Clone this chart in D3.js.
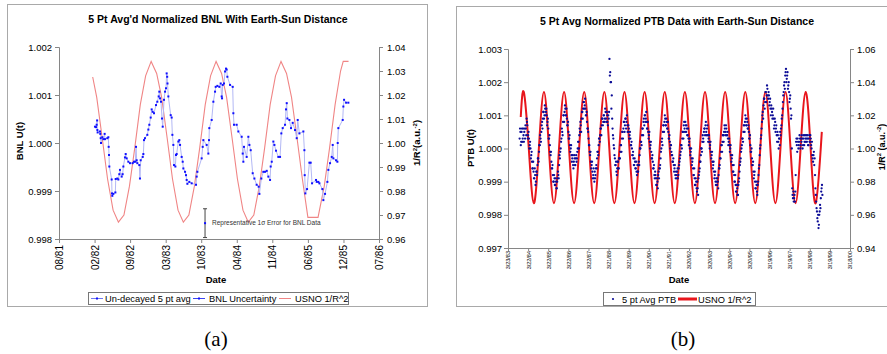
<!DOCTYPE html>
<html>
<head>
<meta charset="utf-8">
<script src="https://cdn.jsdelivr.net/npm/d3@7/dist/d3.min.js"></script>
<style>
  body { margin: 0; background: #fff; }
  svg { display: block; }
</style>
</head>
<body>
<div class="graph"></div>
<script>
/* ---------- data, panel (a): BNL ---------- */

// x ticks of panel (a), decimal years, and their labels
var bnlTickYears = [1981.581, 1982.129, 1982.676, 1983.224, 1983.771, 1984.319, 1984.866, 1985.414, 1985.962, 1986.509];
var bnlTickLabels = ["08/81", "02/82", "09/82", "03/83", "10/83", "04/84", "11/84", "06/85", "12/85", "07/86"];
var bnlLeftTicks = [0.998, 0.999, 1.000, 1.001, 1.002];
var bnlRightTicks = [0.96, 0.97, 0.98, 0.99, 1.00, 1.01, 1.02, 1.03, 1.04];

// Un-decayed 5 pt avg : [decimal year, U(t)]
var bnlAvg = [
  [1982.135, 1.00034], [1982.151, 1.00033], [1982.161, 1.00038], [1982.168, 1.00047], [1982.172, 1.00027],
  [1982.176, 1.00022], [1982.212, 1.00024], [1982.217, 1.00019], [1982.223, 1.00010], [1982.228, 1.00000],
  [1982.248, 1.00012], [1982.264, 1.00008], [1982.284, 1.00019], [1982.289, 1.00008], [1982.325, 1.00010],
  [1982.341, 1.00012], [1982.346, 0.99992], [1982.351, 0.99975], [1982.356, 0.99951], [1982.392, 0.99924],
  [1982.397, 0.99895], [1982.402, 0.99890], [1982.418, 0.99894], [1982.449, 0.99897], [1982.454, 0.99925],
  [1982.479, 0.99926], [1982.495, 0.99924], [1982.510, 0.99935], [1982.520, 0.99944], [1982.546, 0.99930],
  [1982.561, 0.99935], [1982.572, 0.99951], [1982.597, 0.99970], [1982.608, 0.99977], [1982.623, 0.99968],
  [1982.649, 0.99961], [1982.674, 0.99958], [1982.716, 0.99958], [1982.736, 0.99961], [1982.757, 0.99961],
  [1982.767, 0.99992], [1982.777, 0.99964], [1982.787, 0.99958], [1982.818, 0.99954], [1982.828, 0.99926],
  [1982.839, 0.99964], [1982.870, 0.99971], [1982.880, 0.99977], [1982.890, 1.00006], [1982.905, 1.00010],
  [1982.941, 1.00017], [1982.957, 1.00028], [1982.972, 1.00038], [1982.993, 1.00053], [1983.008, 1.00070],
  [1983.024, 1.00065], [1983.044, 1.00062], [1983.075, 1.00079], [1983.095, 1.00086], [1983.116, 1.00097],
  [1983.126, 1.00107], [1983.137, 1.00093], [1983.152, 1.00086], [1983.167, 1.00051], [1983.178, 1.00034],
  [1983.198, 1.00090], [1983.214, 1.00107], [1983.229, 1.00114], [1983.239, 1.00145], [1983.247, 1.00138],
  [1983.252, 1.00124], [1983.265, 1.00097], [1983.301, 1.00058], [1983.316, 1.00053], [1983.327, 1.00017],
  [1983.342, 0.99996], [1983.352, 0.99954], [1983.373, 0.99951], [1983.383, 0.99975], [1983.393, 0.99977],
  [1983.419, 1.00003], [1983.434, 1.00006], [1983.445, 0.99996], [1983.470, 0.99971], [1983.486, 0.99961],
  [1983.496, 0.99947], [1983.522, 0.99940], [1983.537, 0.99933], [1983.547, 0.99923], [1983.558, 0.99915],
  [1983.588, 0.99919], [1983.624, 0.99916], [1983.691, 0.99913], [1983.701, 0.99930], [1983.712, 0.99940],
  [1983.778, 0.99968], [1983.794, 0.99992], [1983.804, 1.00006], [1983.855, 0.99996], [1983.881, 0.99978],
  [1983.891, 1.00006], [1983.896, 1.00031], [1983.932, 1.00048], [1983.958, 1.00086], [1983.984, 1.00107],
  [1983.994, 1.00117], [1984.020, 1.00119], [1984.050, 1.00117], [1984.071, 1.00124], [1984.086, 1.00097],
  [1984.092, 1.00093], [1984.102, 1.00121], [1984.122, 1.00124], [1984.138, 1.00149], [1984.153, 1.00155],
  [1984.163, 1.00153], [1984.174, 1.00138], [1984.215, 1.00121], [1984.256, 1.00117], [1984.266, 1.00062],
  [1984.276, 1.00038], [1984.317, 1.00038], [1984.343, 1.00024], [1984.394, 1.00013], [1984.410, 0.99978],
  [1984.420, 0.99961], [1984.430, 0.99992], [1984.471, 0.99971], [1984.497, 1.00013], [1984.513, 0.99996],
  [1984.533, 0.99985], [1984.564, 0.99937], [1984.590, 0.99926], [1984.625, 0.99913], [1984.656, 0.99909],
  [1984.667, 0.99894], [1984.697, 0.99926], [1984.728, 0.99940], [1984.754, 0.99940], [1984.780, 0.99942],
  [1984.805, 0.99930], [1984.831, 0.99923], [1984.841, 0.99951], [1984.857, 0.99961], [1984.882, 1.00003],
  [1984.898, 0.99996], [1984.923, 0.99984], [1984.959, 0.99971], [1984.985, 0.99971], [1985.005, 1.00020],
  [1985.026, 1.00031], [1985.062, 1.00038], [1985.077, 1.00070], [1985.088, 1.00083], [1985.098, 1.00051],
  [1985.129, 1.00048], [1985.154, 1.00031], [1985.180, 1.00042], [1985.216, 1.00027], [1985.242, 1.00010],
  [1985.257, 1.00048], [1985.283, 1.00020], [1985.344, 1.00024], [1985.360, 0.99985], [1985.365, 0.99933],
  [1985.375, 0.99895], [1985.401, 0.99904], [1985.437, 0.99959], [1985.457, 0.99959], [1985.478, 0.99916],
  [1985.539, 0.99923], [1985.550, 0.99919], [1985.575, 0.99919], [1985.591, 0.99916], [1985.637, 0.99904],
  [1985.652, 0.99881], [1985.678, 0.99894], [1985.714, 0.99919], [1985.729, 0.99944], [1985.755, 0.99958],
  [1985.781, 0.99971], [1985.796, 0.99996], [1985.806, 0.99968], [1985.847, 0.99964], [1985.868, 0.99961],
  [1985.873, 1.00000], [1985.883, 1.00031], [1985.950, 1.00048], [1985.960, 1.00076], [1985.971, 1.00090],
  [1986.002, 1.00084], [1986.037, 1.00084]
];

// BNL Uncertainty : one representative point with its 1 sigma error
var bnlError = [[1983.830, 0.99833, 0.00030]];
var bnlErrorNote = "Representative 1\u03c3 Error for BNL Data";

// USNO 1/R^2, sampled monthly : [decimal year, 1/R^2]
var usnoBnl = [
  [1982.100, 1.0275], [1982.162, 1.019], [1982.247, 1.002], [1982.329, 0.985], [1982.414, 0.972], [1982.496, 0.967],
  [1982.581, 0.970], [1982.666, 0.982], [1982.748, 0.998], [1982.833, 1.016], [1982.915, 1.028],
  [1983.000, 1.034], [1983.085, 1.029], [1983.162, 1.019], [1983.247, 1.002], [1983.329, 0.985], [1983.414, 0.972],
  [1983.496, 0.967], [1983.581, 0.970], [1983.666, 0.982], [1983.748, 0.998], [1983.833, 1.016], [1983.915, 1.028],
  [1984.000, 1.034], [1984.085, 1.029], [1984.162, 1.019], [1984.247, 1.002], [1984.329, 0.985], [1984.414, 0.972],
  [1984.496, 0.967], [1984.581, 0.970], [1984.666, 0.982], [1984.748, 0.998], [1984.833, 1.016], [1984.915, 1.028],
  [1985.000, 1.034], [1985.085, 1.029], [1985.162, 1.019], [1985.247, 1.002], [1985.329, 0.985], [1985.414, 0.969],
  [1985.570, 0.969], [1985.666, 0.982], [1985.748, 0.998], [1985.833, 1.016], [1985.917, 1.030], [1985.958, 1.034],
  [1986.040, 1.034]
];

/* ---------- data, panel (b): PTB ---------- */

var ptbTickLabels = ["3/23/83", "3/22/84", "3/22/85", "3/22/86", "3/22/87", "3/21/88", "3/21/89", "3/21/90", "3/21/91",
                     "3/20/92", "3/20/93", "3/20/94", "3/20/95", "3/19/96", "3/19/97", "3/19/98", "3/19/99", "3/18/00"];
var ptbLeftTicks = [0.997, 0.998, 0.999, 1.000, 1.001, 1.002, 1.003];
var ptbRightTicks = [0.94, 0.96, 0.98, 1.00, 1.02, 1.04, 1.06];

// 5 pt Avg PTB, (U(t) - 1) in units of 1e-4.
// ptbRows: one point every 1/26 year from ptbStart, one row per Oct-Oct year.
// ptbRowsHalf: the points that fall half a step after each of those.
var ptbStart = 1983.80;
var ptbRows = [
  [3, 5, 2, 6, 3, 4, 5, 3, 6, 9, 7, 4, 3, 1, 0, -2, -4, -6, -7, -9, -8, -10, -7, -5, -3, -1],
  [1, 3, 5, 8, 9, 11, 10, 12, 11, 10, 8, 6, 3, 1, -2, -4, -6, -8, -10, -9, -11, -10, -12, -9, -8, -5],
  [-3, 0, 3, 5, 8, 10, 11, 12, 10, 9, 7, 5, 3, 1, 0, -2, -3, -5, -4, -3, -5, -2, -3, 0, 2, 4],
  [5, 7, 9, 11, 12, 14, 13, 12, 10, 8, 6, 3, 1, -2, -4, -5, -7, -8, -9, -7, -8, -5, -3, -1, 1, 3],
  [4, 6, 7, 9, 8, 10, 9, 11, 8, 10, 7, 9, 27, 23, 20, 16, 6, 3, 0, -3, -5, -7, -6, -4, -6, -3],
  [-1, 1, 3, 5, 6, 8, 7, 9, 8, 7, 5, 6, 4, 3, 1, 0, -2, -3, -5, -4, -6, -7, -5, -7, -4, -2],
  [0, 2, 4, 6, 8, 7, 10, 9, 8, 6, 5, 4, 2, 1, -1, -3, -4, -6, -8, -7, -9, -11, -10, -8, -9, -6],
  [-3, 0, 3, 5, 7, 8, 9, 7, 8, 6, 5, 3, 2, 1, -1, -2, -4, -5, -6, -8, -7, -9, -6, -8, -5, -3],
  [-1, 1, 3, 5, 7, 6, 8, 5, 6, 4, 3, 2, 0, -1, -3, -4, -6, -8, -9, -11, -10, -13, -12, -9, -7, -4],
  [-2, 0, 2, 3, 5, 6, 7, 5, 6, 4, 3, 2, 1, -1, -2, -4, -5, -7, -8, -10, -9, -11, -10, -8, -6, -3],
  [-1, 1, 2, 4, 5, 6, 5, 6, 4, 3, 2, 1, 0, -2, -3, -5, -7, -8, -10, -11, -13, -12, -14, -10, -7, -4],
  [-1, 1, 3, 5, 7, 8, 9, 7, 8, 6, 5, 3, 1, -1, -3, -5, -7, -8, -10, -12, -11, -14, -10, -6, -2, 1],
  [4, 8, 11, 13, 15, 14, 17, 16, 18, 15, 16, 14, 12, 13, 11, 10, 9, 7, 8, 6, 4, 5, 2, 3, 1, 4],
  [7, 10, 14, 17, 20, 22, 24, 21, 23, 19, 17, 15, 12, 10, -12, -15, -16, -14, -13, 2, 1, 3, 0, 2, 3, 1],
  [2, 3, 1, 4, 2, 3, 4, 2, 3, 1, 4, 2, 3, 0, -2, -4, -1, -3, -12, -16, -19, -22, -24, -20, -17, -15, -12, -14]
];
var ptbRowsHalf = [
  [6, 1, 5, 2, 6, 2, 6, 7, 4, 8, 3, 5, 0, 2, -3, -1, -6, -4, -9, -6, -11, -7, -8, -3, -4, 1],
  [4, 2, 7, 6, 11, 9, 13, 10, 12, 7, 9, 3, 4, -1, -1, -6, -5, -10, -8, -11, -9, -12, -10, -7, -9, -2],
  [-1, 2, 6, 4, 10, 8, 13, 10, 12, 7, 8, 3, 4, -1, 1, -4, -2, -6, -2, -5, -3, -4, -1, 2, 0, 6],
  [8, 5, 11, 9, 14, 12, 15, 10, 11, 6, 5, 1, -1, -1, -6, -4, -9, -6, -10, -9, -6, -6, -1, -2, 3, 2],
  [6, 4, 9, 7, 10, 8, 12, 9, 11, 8, 10, 11, 22, 20, 12, 9, 4, 1, -2, -5, -4, -8, -4, -6, -3, -3],
  [1, -1, 5, 3, 8, 5, 9, 6, 10, 5, 7, 3, 5, 1, 2, -2, -1, -5, -3, -6, -4, -8, -7, -5, -5, 0],
  [2, 1, 6, 4, 9, 10, 8, 11, 6, 8, 3, 5, 0, 2, -3, -2, -6, -5, -9, -8, -11, -9, -12, -7, -6, -5],
  [-1, 2, 1, 7, 5, 10, 7, 9, 6, 8, 3, 4, 0, 1, -2, -4, -3, -7, -5, -9, -8, -7, -9, -6, -4, -2],
  [1, 0, 5, 3, 8, 5, 7, 7, 4, 6, 1, 3, -2, 0, -5, -3, -8, -6, -11, -9, -12, -10, -14, -8, -6, -4],
  [0, -1, 4, 2, 6, 4, 8, 4, 7, 2, 4, 0, 2, -3, -1, -6, -4, -9, -7, -11, -10, -9, -12, -6, -5, -3],
  [1, -1, 4, 2, 7, 4, 7, 4, 5, 1, 3, -1, 1, -4, -2, -7, -5, -10, -8, -13, -11, -14, -11, -9, -5, -3],
  [0, 3, 2, 7, 5, 10, 7, 9, 6, 7, 3, 4, -1, 0, -5, -4, -9, -7, -12, -10, -13, -11, -8, -5, 0, 3],
  [6, 10, 9, 15, 12, 17, 14, 19, 16, 17, 13, 15, 10, 12, 9, 12, 6, 9, 5, 7, 2, 4, 0, 3, 5, 6],
  [9, 12, 16, 19, 18, 23, 20, 22, 18, 20, 14, 16, 9, 0, -14, -13, -15, -16, -8, 3, -1, 2, 1, 4, 0, 3],
  [4, 0, 3, 1, 4, 2, 3, 4, 1, 3, 2, 4, 1, 2, -3, -2, -5, -8, -14, -18, -21, -20, -23, -19, -18, -13, -11]
];

// USNO 1/R^2 : [decimal year, 1/R^2]
var usnoPtb = [
  [1983.855, 1.019],
  [1984.008, 1.034], [1984.255, 1.000], [1984.505, 0.967], [1984.755, 1.000],
  [1985.008, 1.034], [1985.255, 1.000], [1985.505, 0.967], [1985.755, 1.000],
  [1986.008, 1.034], [1986.255, 1.000], [1986.505, 0.967], [1986.755, 1.000],
  [1987.008, 1.034], [1987.255, 1.000], [1987.505, 0.967], [1987.755, 1.000],
  [1988.008, 1.034], [1988.255, 1.000], [1988.505, 0.967], [1988.755, 1.000],
  [1989.008, 1.034], [1989.255, 1.000], [1989.505, 0.967], [1989.755, 1.000],
  [1990.008, 1.034], [1990.255, 1.000], [1990.505, 0.967], [1990.755, 1.000],
  [1991.008, 1.034], [1991.255, 1.000], [1991.505, 0.967], [1991.755, 1.000],
  [1992.008, 1.034], [1992.255, 1.000], [1992.505, 0.967], [1992.755, 1.000],
  [1993.008, 1.034], [1993.255, 1.000], [1993.505, 0.967], [1993.755, 1.000],
  [1994.008, 1.034], [1994.255, 1.000], [1994.505, 0.967], [1994.755, 1.000],
  [1995.008, 1.034], [1995.255, 1.000], [1995.505, 0.967], [1995.755, 1.000],
  [1996.008, 1.034], [1996.255, 1.000], [1996.505, 0.967], [1996.755, 1.000],
  [1997.008, 1.034], [1997.255, 1.000], [1997.505, 0.967], [1997.755, 1.000],
  [1998.008, 1.034], [1998.255, 1.000], [1998.505, 0.967], [1998.810, 1.010]
];

/* ---------- drawing ---------- */

const FONT = "'Liberation Sans', Arial, sans-serif";
const GREY = "#868686";

var svg = d3.select(".graph").append("svg")
  .attr("width", 887)
  .attr("height", 354)
  .style("font-family", FONT);

svg.append("rect").attr("width", 887).attr("height", 354).attr("fill", "#fff");

// decimal year of a Date
function decYear(d) {
  var y = d.getFullYear();
  var s = new Date(y, 0, 1), e = new Date(y + 1, 0, 1);
  return y + (d - s) / (e - s);
}

// give an axis group the look of the Excel axes
function styleAxis(g, size) {
  g.attr("font-family", FONT).attr("font-size", size);
  g.select(".domain").attr("stroke", GREY);
  g.selectAll(".tick line").attr("stroke", GREY);
  g.selectAll(".tick text").attr("fill", "#000");
}

// rotate the x tick labels so they read bottom to top
function rotateTicks(g, gap) {
  g.selectAll(".tick text")
    .attr("transform", "rotate(-90)")
    .attr("x", -gap)
    .attr("y", 0)
    .attr("dy", "0.35em")
    .attr("text-anchor", "end");
}

// "1/R^2 (a.u.^-2)" label with superscripts
function r2Label(t, sep) {
  t.append("tspan").text("1/R");
  t.append("tspan").attr("dy", -3.5).style("font-size", "6px").text("2");
  t.append("tspan").attr("dy", 3.5).text(sep + "(a.u.");
  t.append("tspan").attr("dy", -3.5).style("font-size", "6px").text("-2");
  t.append("tspan").attr("dy", 3.5).text(")");
}

/* ----- panel (a) ----- */
(function() {
  const m = {left: 59, right: 379, top: 47, bottom: 239};

  svg.append("rect")
    .attr("x", 7.5).attr("y", 4.5).attr("width", 420).attr("height", 302)
    .attr("fill", "#fff").attr("stroke", "#a9a9a9");

  var x = d3.scaleLinear().domain([bnlTickYears[0], bnlTickYears[bnlTickYears.length - 1]]).range([m.left, m.right]);
  var y = d3.scaleLinear().domain([0.998, 1.002]).range([m.bottom, m.top]);
  var y2 = d3.scaleLinear().domain([0.96, 1.04]).range([m.bottom, m.top]);

  var gl = svg.append("g").attr("transform", "translate(" + m.left + ",0)")
    .call(d3.axisLeft(y).tickValues(bnlLeftTicks).tickFormat(d3.format(".3f")).tickSize(4).tickPadding(3));
  styleAxis(gl, 9.5);

  var gr = svg.append("g").attr("transform", "translate(" + m.right + ",0)")
    .call(d3.axisRight(y2).tickValues(bnlRightTicks).tickFormat(d3.format(".2f")).tickSize(4).tickPadding(4));
  styleAxis(gr, 9.5);

  var gx = svg.append("g").attr("transform", "translate(0," + m.bottom + ")")
    .call(d3.axisBottom(x).tickValues(bnlTickYears).tickFormat(function(d, i) { return bnlTickLabels[i]; }).tickSize(4));
  styleAxis(gx, 10);
  rotateTicks(gx, 6);

  // USNO 1/R^2
  svg.append("path")
    .datum(usnoBnl)
    .attr("fill", "none")
    .attr("stroke", "#f08585")
    .attr("stroke-width", 1.1)
    .attr("d", d3.line().x(function(d) { return x(d[0]); }).y(function(d) { return y2(d[1]); }));

  // Un-decayed 5 pt avg
  svg.append("path")
    .datum(bnlAvg)
    .attr("fill", "none")
    .attr("stroke", "#b3b8f5")
    .attr("stroke-width", 1)
    .attr("d", d3.line().x(function(d) { return x(d[0]); }).y(function(d) { return y(d[1]); }));

  svg.append("g").selectAll("rect")
    .data(bnlAvg)
    .enter()
    .append("rect")
      .attr("x", function(d) { return x(d[0]) - 1; })
      .attr("y", function(d) { return y(d[1]) - 1; })
      .attr("width", 2)
      .attr("height", 2)
      .attr("fill", "#1010ff");

  // representative error bar
  var eb = svg.append("g").selectAll("g").data(bnlError).enter().append("g");
  eb.append("line")
    .attr("x1", function(d) { return x(d[0]); }).attr("x2", function(d) { return x(d[0]); })
    .attr("y1", function(d) { return y(d[1] - d[2]); }).attr("y2", function(d) { return y(d[1] + d[2]); })
    .attr("stroke", "#444").attr("stroke-width", 1);
  [-1, 1].forEach(function(s) {
    eb.append("line")
      .attr("x1", function(d) { return x(d[0]) - 2; }).attr("x2", function(d) { return x(d[0]) + 2; })
      .attr("y1", function(d) { return y(d[1] + s * d[2]); }).attr("y2", function(d) { return y(d[1] + s * d[2]); })
      .attr("stroke", "#444").attr("stroke-width", 1);
  });
  eb.append("rect")
    .attr("x", function(d) { return x(d[0]) - 1; }).attr("y", function(d) { return y(d[1]) - 1; })
    .attr("width", 2).attr("height", 2).attr("fill", "#1010ff");
  eb.append("text")
    .attr("x", function(d) { return x(d[0]) + 7; })
    .attr("y", function(d) { return y(d[1]) + 2.3; })
    .style("font-size", "6.5px")
    .attr("fill", "#333")
    .text(bnlErrorNote);

  // titles
  svg.append("text").attr("x", 218).attr("y", 22.5).attr("text-anchor", "middle")
    .style("font-size", "10.5px").style("font-weight", "bold")
    .text("5 Pt Avg'd Normalized BNL With Earth-Sun Distance");
  svg.append("text").attr("x", 216).attr("y", 283).attr("text-anchor", "middle")
    .style("font-size", "9.5px").style("font-weight", "bold").text("Date");
  svg.append("text").attr("transform", "translate(23,141) rotate(-90)").attr("text-anchor", "middle")
    .style("font-size", "9.5px").style("font-weight", "bold").text("BNL U(t)");
  svg.append("text").attr("transform", "translate(420,143) rotate(-90)").attr("text-anchor", "middle")
    .style("font-size", "9.5px").style("font-weight", "bold").call(r2Label, "");

  // legend
  var lg = svg.append("g").style("font-size", "9.3px");
  lg.append("rect").attr("x", 88.5).attr("y", 292.5).attr("width", 260).attr("height", 12)
    .attr("fill", "#fff").attr("stroke", "#777");
  var items = [
    {x: 91, tx: 105, color: "#6f78f0", marker: true, label: "Un-decayed 5 pt avg"},
    {x: 193, tx: 209, color: "#3a44f2", marker: true, label: "BNL Uncertainty"},
    {x: 279, tx: 295, color: "#f08585", marker: false, label: "USNO 1/R^2"}
  ];
  items.forEach(function(it) {
    lg.append("line").attr("x1", it.x).attr("x2", it.x + 12).attr("y1", 298.5).attr("y2", 298.5)
      .attr("stroke", it.color).attr("stroke-width", 1);
    if (it.marker) {
      lg.append("rect").attr("x", it.x + 5).attr("y", 297.5).attr("width", 2).attr("height", 2).attr("fill", "#1010ff");
    }
    lg.append("text").attr("x", it.tx).attr("y", 302).text(it.label);
  });
})();

/* ----- panel (b) ----- */
(function() {
  const m = {left: 508, right: 850, top: 49, bottom: 248};

  svg.append("rect")
    .attr("x", 456.5).attr("y", 6.5).attr("width", 440).attr("height", 300)
    .attr("fill", "#fff").attr("stroke", "#a9a9a9");

  var parse = d3.timeParse("%m/%d/%y");
  var tickYears = ptbTickLabels.map(function(s) { return decYear(parse(s)); });

  var x = d3.scaleLinear().domain([tickYears[0], tickYears[tickYears.length - 1]]).range([m.left, m.right]);
  var y = d3.scaleLinear().domain([0.997, 1.003]).range([m.bottom, m.top]);
  var y2 = d3.scaleLinear().domain([0.94, 1.06]).range([m.bottom, m.top]);

  var gl = svg.append("g").attr("transform", "translate(" + m.left + ",0)")
    .call(d3.axisLeft(y).tickValues(ptbLeftTicks).tickFormat(d3.format(".3f")).tickSize(4).tickPadding(2));
  styleAxis(gl, 9.5);

  var gr = svg.append("g").attr("transform", "translate(" + m.right + ",0)")
    .call(d3.axisRight(y2).tickValues(ptbRightTicks).tickFormat(d3.format(".2f")).tickSize(4).tickPadding(3));
  styleAxis(gr, 9.5);

  var gx = svg.append("g").attr("transform", "translate(0," + m.bottom + ")")
    .call(d3.axisBottom(x).tickValues(tickYears).tickFormat(function(d, i) { return ptbTickLabels[i]; }).tickSize(3));
  styleAxis(gx, 5.5);
  rotateTicks(gx, 3);

  // flatten the PTB rows into [decimal year, U(t)]
  var ptb = [];
  d3.merge(ptbRows).forEach(function(v, i) {
    ptb.push([ptbStart + i / 26, 1 + v / 10000]);
  });
  d3.merge(ptbRowsHalf).forEach(function(v, i) {
    ptb.push([ptbStart + (i + 0.5) / 26, 1 + v / 10000]);
  });

  // USNO 1/R^2
  svg.append("path")
    .datum(usnoPtb)
    .attr("fill", "none")
    .attr("stroke", "#e8161c")
    .attr("stroke-width", 2)
    .attr("d", d3.line().curve(d3.curveNatural).x(function(d) { return x(d[0]); }).y(function(d) { return y2(d[1]); }));

  // 5 pt Avg PTB
  svg.append("g").selectAll("circle")
    .data(ptb)
    .enter()
    .append("circle")
      .attr("cx", function(d) { return x(d[0]); })
      .attr("cy", function(d) { return y(d[1]); })
      .attr("r", 1.15)
      .attr("fill", "#0c0c96");

  // titles
  svg.append("text").attr("x", 677).attr("y", 24.5).attr("text-anchor", "middle")
    .style("font-size", "10.5px").style("font-weight", "bold")
    .text("5 Pt Avg Normalized PTB Data with Earth-Sun Distance");
  svg.append("text").attr("x", 679).attr("y", 283).attr("text-anchor", "middle")
    .style("font-size", "9.5px").style("font-weight", "bold").text("Date");
  svg.append("text").attr("transform", "translate(474,148) rotate(-90)").attr("text-anchor", "middle")
    .style("font-size", "9.5px").style("font-weight", "bold").text("PTB U(t)");
  svg.append("text").attr("transform", "translate(884.5,147) rotate(-90)").attr("text-anchor", "middle")
    .style("font-size", "9px").style("font-weight", "bold").call(r2Label, " ");

  // legend
  var lg = svg.append("g").style("font-size", "9.3px");
  lg.append("rect").attr("x", 603.5).attr("y", 292.5).attr("width", 152).attr("height", 13)
    .attr("fill", "#fff").attr("stroke", "#777");
  lg.append("circle").attr("cx", 613).attr("cy", 299).attr("r", 1.1).attr("fill", "#0c0c96");
  lg.append("text").attr("x", 622).attr("y", 302.5).text("5 pt Avg PTB");
  lg.append("line").attr("x1", 678).attr("x2", 697).attr("y1", 299).attr("y2", 299)
    .attr("stroke", "#e8161c").attr("stroke-width", 3);
  lg.append("text").attr("x", 698).attr("y", 302.5).text("USNO 1/R^2");
})();

/* ----- sub-figure captions ----- */
svg.append("text").attr("x", 216).attr("y", 346).attr("text-anchor", "middle")
  .style("font-family", "'Liberation Serif', 'DejaVu Serif', serif").style("font-size", "21px").text("(a)");
svg.append("text").attr("x", 683).attr("y", 346).attr("text-anchor", "middle")
  .style("font-family", "'Liberation Serif', 'DejaVu Serif', serif").style("font-size", "21px").text("(b)");
</script>
</body>
</html>
